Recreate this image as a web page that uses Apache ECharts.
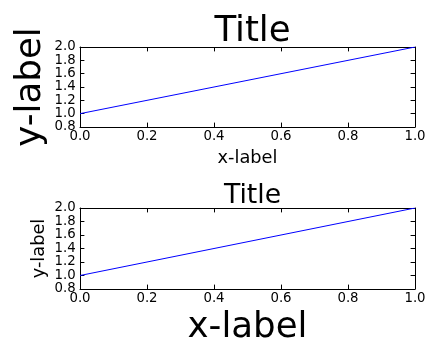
<!DOCTYPE html>
<html>
<head>
<meta charset="utf-8">
<script src="https://cdn.jsdelivr.net/npm/echarts@6/dist/echarts.min.js"></script>
<style>html,body{margin:0;padding:0;background:#fff}#c{width:440px;height:360px}</style>
</head>
<body>
<div id="c"></div>
<script>
const xValues = [0, 1];
const yValues = [1, 2];
const xTicks = ['0.0', '0.2', '0.4', '0.6', '0.8', '1.0'];
const yTicks = ['0.8', '1.0', '1.2', '1.4', '1.6', '1.8', '2.0'];
const titles = ['Title', 'Title'];
const xLabels = ['x-label', 'x-label'];
const yLabels = ['y-label', 'y-label'];

const FONT = 'DejaVu Sans';
const big = 35.6, mid = 26.7, small = 17.8, tick = 13.3;

const chart = echarts.init(document.getElementById('c'), null, {renderer: 'canvas'});
const lineStyle = {color: '#000', width: 1};

function xAxisDef(grid, pos, showLabel, name, nameSize, nameGap) {
  return {
    type: 'value', gridIndex: grid, position: pos, min: 0, max: 1, interval: 0.2,
    axisLine: {show: true, onZero: false, lineStyle},
    axisTick: {show: true, inside: true, length: 4.4, lineStyle},
    splitLine: {show: false},
    axisLabel: {show: showLabel, margin: 3.5, color: '#000', fontFamily: FONT, fontSize: tick,
      formatter: v => xTicks[Math.round(v / 0.2)]},
    name: name || '', nameLocation: 'middle', nameGap: nameGap || 0, nameMoveOverlap: false,
    nameTextStyle: {color: '#000', fontFamily: FONT, fontSize: nameSize || 12}
  };
}
function yAxisDef(grid, pos, showLabel, name, nameSize, nameGap) {
  return {
    type: 'value', gridIndex: grid, position: pos, min: 0.8, max: 2.0, interval: 0.2,
    axisLine: {show: true, onZero: false, lineStyle},
    axisTick: {show: true, inside: true, length: 4.4, lineStyle},
    splitLine: {show: false},
    axisLabel: {show: showLabel, margin: 4.4, color: '#000', fontFamily: FONT, fontSize: tick,
      formatter: v => yTicks[Math.round((v - 0.8) / 0.2)]},
    name: name || '', nameLocation: 'middle', nameGap: nameGap || 0, nameRotate: 90, nameMoveOverlap: false,
    nameTextStyle: {color: '#000', fontFamily: FONT, fontSize: nameSize || 12}
  };
}

const pts = xValues.map((x, i) => [x, yValues[i]]);

chart.setOption({
  animation: false,
  backgroundColor: '#fff',
  title: [
    {text: titles[0], left: 247.5, textAlign: 'center', top: 9,
     textStyle: {fontFamily: FONT, fontSize: big, fontWeight: 'normal', color: '#000'}},
    {text: titles[1], left: 247.5, textAlign: 'center', top: 178,
     textStyle: {fontFamily: FONT, fontSize: mid, fontWeight: 'normal', color: '#000'}}
  ],
  grid: [
    {left: 80, top: 47, width: 335, height: 80},
    {left: 80, top: 208, width: 335, height: 81}
  ],
  xAxis: [
    xAxisDef(0, 'bottom', true, xLabels[0], small, 22),
    xAxisDef(0, 'top', false),
    xAxisDef(1, 'bottom', true, xLabels[1], big, 21),
    xAxisDef(1, 'top', false)
  ],
  yAxis: [
    yAxisDef(0, 'left', true, yLabels[0], big, 31),
    yAxisDef(0, 'right', false),
    yAxisDef(1, 'left', true, yLabels[1], small, 32),
    yAxisDef(1, 'right', false)
  ],
  series: [
    {type: 'line', xAxisIndex: 0, yAxisIndex: 0, data: pts, symbol: 'none',
     lineStyle: {color: '#0000ff', width: 1}},
    {type: 'line', xAxisIndex: 2, yAxisIndex: 2, data: pts, symbol: 'none',
     lineStyle: {color: '#0000ff', width: 1}}
  ]
});
</script>
</body>
</html>
